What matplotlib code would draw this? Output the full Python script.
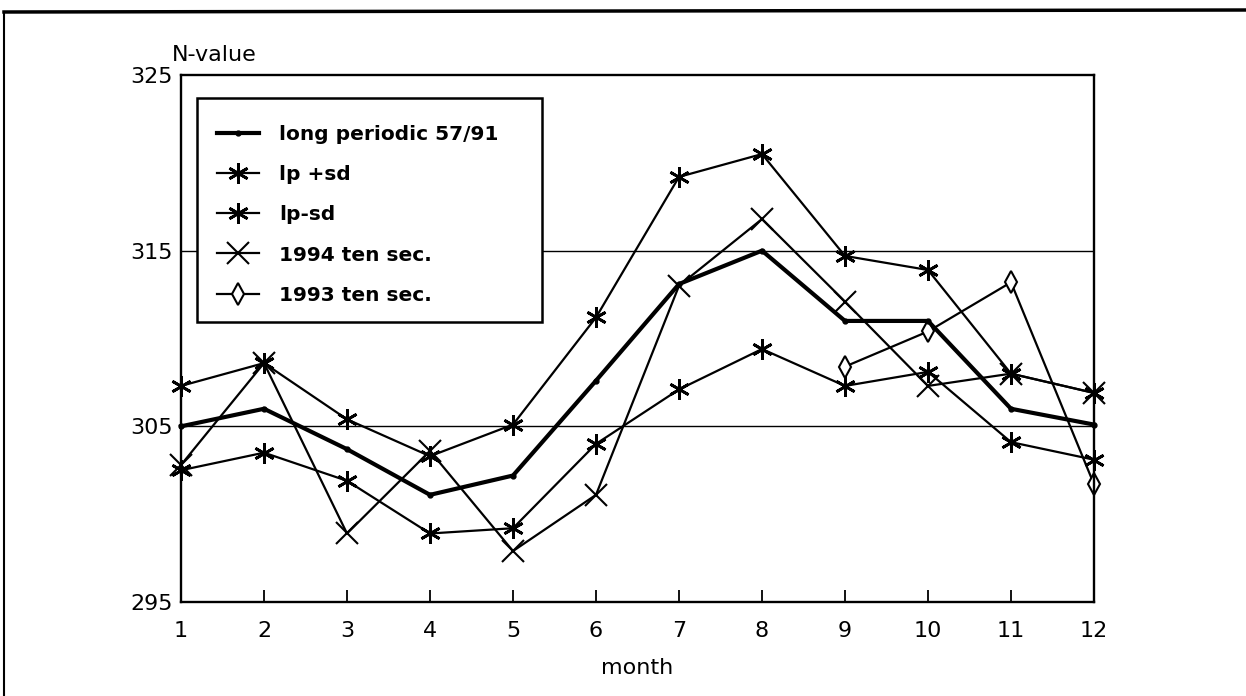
import matplotlib
matplotlib.use("Agg")
import matplotlib.pyplot as plt
from matplotlib.lines import Line2D
from matplotlib.patches import Rectangle

# monthly N-values
months = list(range(1, 13))
long_periodic = [305.0, 306.0, 303.7, 301.1, 302.2, 307.6, 313.1, 315.0, 311.0, 311.0, 306.0, 305.1]
lp_plus_sd = [307.3, 308.6, 305.4, 303.3, 305.1, 311.2, 319.2, 320.5, 314.7, 313.9, 308.0, 306.9]
lp_minus_sd = [302.5, 303.5, 301.9, 298.9, 299.2, 304.0, 307.1, 309.4, 307.3, 308.1, 304.1, 303.1]
ten_sec_1994 = [302.8, 308.6, 298.9, 303.6, 297.9, 301.1, 313.0, 316.8, 312.1, 307.3, 308.0, 306.9]
months_1993 = [9, 10, 11, 12]
ten_sec_1993 = [308.4, 310.4, 313.2, 301.7]

labels = ["long periodic 57/91", "lp +sd", "lp-sd", "1994 ten sec.", "1993 ten sec."]
yticks = [295, 305, 315, 325]

plt.rcParams["font.family"] = "DejaVu Sans"
fig = plt.figure(figsize=(12.46, 6.96), dpi=100)
ax = fig.add_axes([181 / 1246, 1 - 602 / 696, 913 / 1246, 527 / 696])

asterisk = (6, 2, 0)
thin = dict(color="black", lw=1.6, clip_on=False)
star_kw = dict(marker=asterisk, ms=15, mew=2.0)
x_kw = dict(marker="x", ms=16, mew=1.5)
dia_kw = dict(marker="d", ms=11, mew=1.5, mfc="white")
lp_kw = dict(color="black", lw=3.0, marker="o", ms=3.5, clip_on=False)

ax.plot(months, lp_plus_sd, **star_kw, **thin)
ax.plot(months, lp_minus_sd, **star_kw, **thin)
ax.plot(months, ten_sec_1994, **x_kw, **thin)
ax.plot(months_1993, ten_sec_1993, **dia_kw, **thin)
ax.plot(months, long_periodic, **lp_kw)

for v in [305, 315]:
    ax.axhline(v, color="black", lw=1.0, zorder=0)

ax.set_xlim(1, 12)
ax.set_ylim(295, 325)
ax.set_xticks(months)
ax.set_yticks(yticks)
ax.tick_params(axis="x", direction="in", length=9, width=1.3, labelsize=16, pad=14)
ax.tick_params(axis="y", length=0, labelsize=16, pad=6)
for s in ax.spines.values():
    s.set_linewidth(1.7)

ax.set_xlabel("month", fontsize=16, labelpad=12)
fig.text(172 / 1246, 1 - 55 / 696, "N-value", fontsize=16, va="center", ha="left")

# legend box drawn separately so it can be wider than its text
ax.add_patch(Rectangle((0.0175, 0.531), 0.378, 0.425, transform=ax.transAxes,
                       facecolor="white", edgecolor="black", lw=1.8, zorder=5))
handles = [
    Line2D([], [], **lp_kw),
    Line2D([], [], **star_kw, **thin),
    Line2D([], [], **star_kw, **thin),
    Line2D([], [], **x_kw, **thin),
    Line2D([], [], **dia_kw, **thin),
]
leg = ax.legend(handles, labels, loc="upper left", bbox_to_anchor=(0.0394, 0.905),
                borderaxespad=0, borderpad=0, frameon=False, handlelength=2.1,
                handletextpad=1.0, labelspacing=1.05, prop={"size": 14.5, "weight": "bold"})
leg.set_zorder(6)

# page frame, top and left edges
fig.add_artist(Line2D([4 / 1246, 1], [1 - 12 / 696, 1 - 10 / 696], color="black", lw=2.5))
fig.add_artist(Line2D([4 / 1246, 4 / 1246], [0, 1 - 12 / 696], color="black", lw=1.5))

fig.savefig("out.png", dpi=100)
